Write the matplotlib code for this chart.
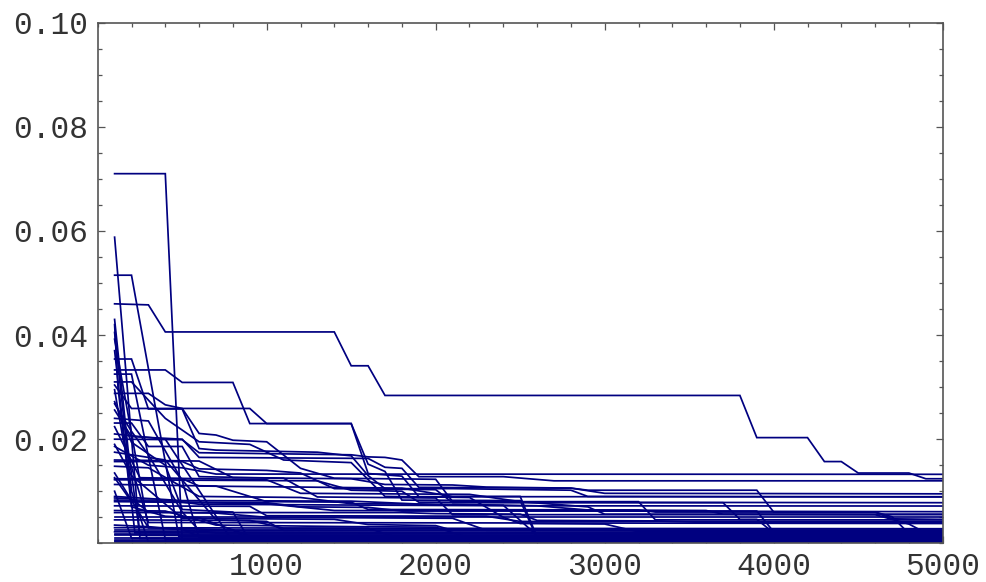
import matplotlib
matplotlib.use("Agg")
import matplotlib.pyplot as plt
from matplotlib.ticker import MultipleLocator, FixedLocator, FixedFormatter

# Each series: list of (x, y*1000) vertices
series = [
    [(100,71),(400,71),(500,0.6),(5000,0.6)],
    [(100,46),(300,45.8),(400,40.6),(1400,40.6),(1500,34.1),(1600,34.1),(1700,28.4),(3800,28.4),(3900,20.3),(4200,20.3),(4300,15.7),(4400,15.7),(4500,13.5),(4800,13.5),(4900,12.4),(5000,12.4)],
    [(100,58.8),(250,0.9),(5000,0.9)],
    [(100,51.5),(200,51.5),(480,1.3),(5000,1.3)],
    [(100,33.3),(400,33.3),(500,30.9),(800,30.9),(900,23.0),(1500,23.0),(1600,13.4),(1800,12.9),(1900,8.95),(5000,8.95)],
    [(100,30.4),(200,25.9),(900,25.9),(1000,23.0),(1500,23.0),(1600,15.2),(1700,13.8),(1800,8.3),(2500,8.2),(2600,1.0),(5000,1.0)],
    [(100,28.8),(300,28.8),(400,26.6),(500,25.9),(600,21.1),(700,20.8),(800,19.8),(1000,19.5),(1200,14.4),(1400,12.5),(2000,12.3),(2100,8.0),(3200,8.0),(3300,4.5),(5000,4.5)],
    [(100,23.1),(200,23.1),(300,18.6),(500,18.6),(600,12.8),(1100,12.5),(1300,8.9),(2000,8.7),(2100,5.5),(5000,5.5)],
    [(100,43),(180,18),(250,1.5),(5000,1.5)],
    [(100,39.2),(300,3.0),(800,2.6),(900,0.4),(5000,0.4)],
    [(100,35.4),(200,35.4),(300,25.8),(500,25.8),(600,18.2),(700,17.9),(1300,17.5),(1500,16.8),(1600,13.0),(1700,10.5),(2100,10.5),(2800,10.2),(2900,9.0),(5000,8.9)],
    [(100,20.0),(500,19.9),(600,17.4),(1500,17.0),(1600,16.6),(1700,16.5),(1800,16.0),(1900,12.8),(2400,12.8),(2700,12.0),(5000,12.0)],
    [(100,25.6),(200,20.5),(500,20.0),(600,16.5),(1600,16.3),(1700,14.6),(1800,14.4),(1900,10.75),(2800,10.6),(2900,10.2),(3900,10.2),(4000,6.0),(4600,6.0),(4700,5.1),(4800,1.9),(5000,1.9)],
    [(100,15.7),(500,15.7),(600,14.3),(1000,14.0),(1200,13.5),(1400,10.5),(2000,10.3),(2100,7.8),(3700,7.8),(3800,4.6),(3900,4.6),(4000,2.0),(5000,2.0)],
    [(100,18.6),(300,15.0),(500,14.5),(700,13.3),(5000,13.25)],
    [(100,12.4),(500,12.4),(600,11.0),(1800,10.6),(2100,9.0),(2500,9.0),(2600,1.2),(5000,1.2)],
    [(100,12.2),(1300,12.0),(1500,10.2),(1800,10.0),(1900,7.9),(5000,7.8)],
    [(100,22.4),(250,12.6),(1000,12.2),(1200,9.6),(2200,9.4),(2500,8.0),(2900,7.0),(3000,5.6),(5000,5.6)],
    [(100,8.7),(200,8.6),(300,6.0),(700,5.8),(1000,5.0),(2100,4.8),(2300,2.5),(5000,2.3)],
    [(100,8.0),(1000,7.8),(1200,7.0),(1600,6.9),(1800,6.2),(3900,6.2),(4000,2.2),(5000,2.2)],
    [(100,5.9),(1800,5.9),(2000,5.7),(2500,5.6),(2600,4.4),(3300,4.3),(3600,4.0),(5000,4.0)],
    [(100,5.1),(5000,5.1)],
    [(100,4.5),(900,4.4),(1100,2.9),(5000,2.8)],
    [(100,2.2),(5000,2.1)],
    [(100,1.8),(5000,1.8)],
    [(100,1.5),(5000,1.5)],
    [(100,0.3),(5000,0.3)],
    [(100,0.1),(5000,0.1)],
    [(100,0.7),(5000,0.7)],
    [(100,40.5),(200,10),(300,0.2),(5000,0.2)],
    [(100,37),(220,2.0),(5000,2.0)],
    [(100,32.5),(200,32.5),(400,0.8),(5000,0.8)],
    [(100,29.5),(150,20),(300,4),(5000,3.8)],
    [(100,27.2),(200,19.4),(400,15.0),(500,6.5),(800,6.0),(900,0.5),(5000,0.5)],
    [(100,21.0),(400,20.0),(800,0.3),(5000,0.3)],
    [(100,24.0),(300,23.5),(500,12),(600,1.0),(5000,1.0)],
    [(100,17.5),(400,16),(700,4.5),(1000,4.2),(1100,2.5),(5000,2.5)],
    [(100,14.8),(300,14.5),(600,9.0),(1200,8.8),(1500,7.6),(2100,7.5),(2600,7.2),(2900,6.4),(3600,6.3),(3700,5.6),(4600,5.5),(4800,3.7),(4900,2.0),(5000,2.0)],
    [(100,9.0),(300,8.6),(500,8.2),(1500,8.1),(2000,7.4),(2400,7.3),(2600,1.5),(5000,1.5)],
    [(100,6.3),(400,6.2),(700,3.5),(1500,3.2),(2000,3.1),(2200,1.0),(5000,1.0)],
    [(100,3.5),(300,3.2),(700,2.0),(5000,1.9)],
    [(100,3.0),(1600,2.9),(1800,0.8),(5000,0.8)],
    [(100,10.0),(200,1.0),(5000,1.0)],
    [(100,13.5),(300,3.0),(500,2.7),(600,1.3),(5000,1.2)],
    [(100,19.0),(200,13.0),(500,4.8),(1400,4.6),(1600,3.6),(2000,3.4),(2100,2.5),(5000,2.4)],
    [(100,7.2),(900,7.1),(1000,5.3),(2300,5.2),(2500,4.2),(5000,4.2)],
    [(100,11.3),(700,11.0),(1000,8.0),(1500,7.9),(1600,6.5),(3200,6.4),(3300,6.0),(4600,6.0),(4700,4.7),(5000,4.6)],
    [(100,42),(120,30),(200,7.0),(400,5.2),(600,4.9),(1000,0.2),(5000,0.2)],
    [(100,26.8),(200,21.5),(300,17.0),(500,6.0),(600,2.5),(5000,2.4)],
    [(100,16.0),(600,15.8),(800,12.6),(1500,12.4),(1700,11.3),(2100,11.2),(2300,10.8),(2800,10.6),(3000,9.6),(5000,9.5)],
    [(100,8.3),(400,8.3),(600,7.5),(1800,7.3),(2500,7.2),(5000,7.16)],
    [(100,12.6),(200,8.0),(1000,7.6),(1400,6.3),(5000,6.07)],
    [(100,31.0),(200,31.0),(400,24.0),(600,19.5),(900,19.0),(1100,16.0),(1500,15.5),(1700,9.0),(2200,8.8),(2400,5.0),(2500,3.8),(3000,3.7),(3200,2.2),(5000,2.2)],
    [(100,2.6),(5000,2.6)],
    [(100,1.1),(5000,1.1)],
    [(100,0.5),(5000,0.5)],
]

x_ticks = [1000, 2000, 3000, 4000, 5000]
x_labels = ["1000", "2000", "3000", "4000", "5000"]
y_ticks = [0.02, 0.04, 0.06, 0.08, 0.10]
y_labels = ["0.02", "0.04", "0.06", "0.08", "0.10"]

line_color = "#000080"
frame_color = "#555555"
text_color = "#333333"

fig = plt.figure(figsize=(9.86, 5.82), dpi=100)
ax = fig.add_axes([97.7/986, 1 - 543.3/582, (942.7-97.7)/986, (543.3-22.7)/582])

for s in series:
    xs = [p[0] for p in s]
    ys = [p[1] / 1000.0 for p in s]
    ax.plot(xs, ys, color=line_color, lw=1.25, solid_joinstyle="miter")

ax.set_xlim(0, 5000)
ax.set_ylim(0, 0.10)

fam = ["Liberation Mono", "DejaVu Sans Mono"]
ax.xaxis.set_major_locator(FixedLocator(x_ticks))
ax.xaxis.set_major_formatter(FixedFormatter(x_labels))
ax.xaxis.set_minor_locator(MultipleLocator(200))
ax.yaxis.set_major_locator(FixedLocator(y_ticks))
ax.yaxis.set_major_formatter(FixedFormatter(y_labels))
ax.yaxis.set_minor_locator(MultipleLocator(0.005))
for lab in ax.get_xticklabels() + ax.get_yticklabels():
    lab.set_fontfamily(fam)
    lab.set_fontsize(22.5)
    lab.set_color(text_color)

ax.tick_params(which="both", direction="in", top=True, right=True, color=frame_color, width=0.9)
ax.tick_params(which="major", length=5)
ax.tick_params(which="minor", length=3)
ax.tick_params(axis="x", pad=6)
ax.tick_params(axis="y", pad=7)
for sp in ax.spines.values():
    sp.set_color(frame_color)
    sp.set_linewidth(1.2)

fig.savefig("out.png", dpi=100)
